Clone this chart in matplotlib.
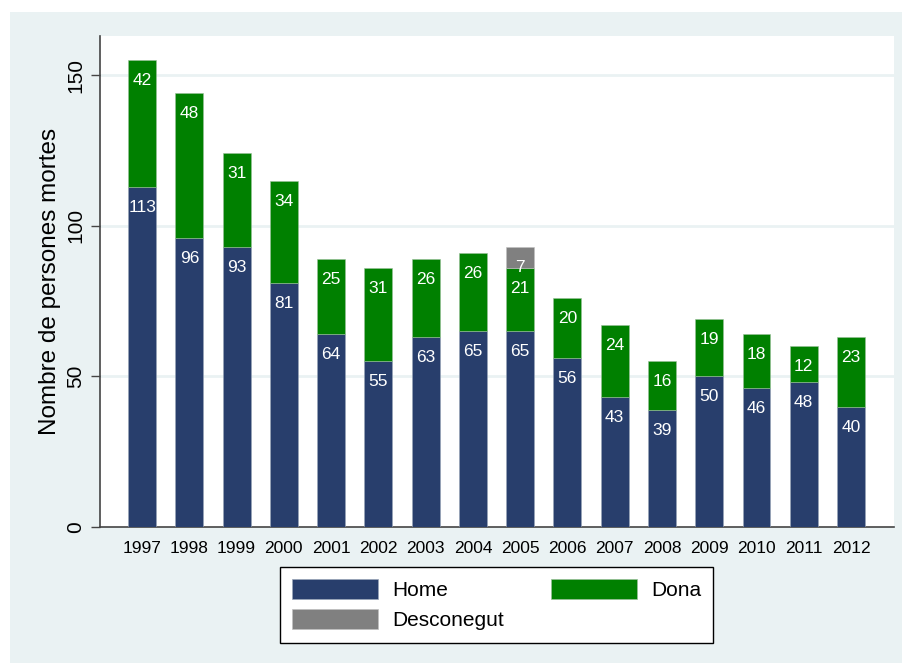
import matplotlib.pyplot as plt
from matplotlib.patches import Rectangle, Patch
import numpy as np

plt.rcParams['font.family'] = ['Liberation Sans', 'DejaVu Sans']

years = ['1997', '1998', '1999', '2000', '2001', '2002', '2003', '2004',
         '2005', '2006', '2007', '2008', '2009', '2010', '2011', '2012']
home = [113, 96, 93, 81, 64, 55, 63, 65, 65, 56, 43, 39, 50, 46, 48, 40]
dona = [42, 48, 31, 34, 25, 31, 26, 26, 21, 20, 24, 16, 19, 18, 12, 23]
desconegut = [0, 0, 0, 0, 0, 0, 0, 0, 7, 0, 0, 0, 0, 0, 0, 0]

c_home = '#283e6c'
c_dona = '#008000'
c_desc = '#808080'
bg = '#eaf2f3'

fig = plt.figure(figsize=(9.03, 6.63), dpi=100)
fig.patches.append(Rectangle((10 / 903, 0), 1, 651 / 663, transform=fig.transFigure,
                             facecolor=bg, edgecolor='none', zorder=-10))
ax = fig.add_axes([100 / 903, 136 / 663, 794 / 903, 491 / 663])

x = np.arange(len(years))
w = 0.59
home = np.array(home)
dona = np.array(dona)
desconegut = np.array(desconegut)

ax.bar(x, home, w, color=c_home, edgecolor='#9aa6b8', linewidth=0.4, zorder=3)
ax.bar(x, dona, w, bottom=home, color=c_dona, edgecolor='#9ac09a', linewidth=0.4, zorder=3)
mask = desconegut > 0
ax.bar(x[mask], desconegut[mask], w, bottom=(home + dona)[mask], color=c_desc,
       edgecolor='#c0c0c0', linewidth=0.4, zorder=3)

# white value labels just under the top of each segment
for i in range(len(years)):
    segs = [(home[i], home[i]), (dona[i], home[i] + dona[i]),
            (desconegut[i], home[i] + dona[i] + desconegut[i])]
    for val, top in segs:
        if val > 0:
            ax.annotate(str(val), (x[i], top), xytext=(0, -18), textcoords='offset points',
                        ha='center', va='baseline', color='white', fontsize=12.5, zorder=4)

ax.set_xlim(-0.89, 15.91)
ax.set_ylim(0, 163)
ax.set_yticks([0, 50, 100, 150])
ax.set_xticks(x)
ax.set_xticklabels(years)
ax.tick_params(axis='x', length=0, pad=10, labelsize=12.5)
ax.tick_params(axis='y', length=6.5, width=1, color='#444444', pad=4, labelsize=15)
for lab in ax.get_yticklabels():
    lab.set_rotation(90)
    lab.set_va('center')

for val in [50, 100, 150]:
    ax.axhline(val, color=bg, linewidth=2, zorder=1)

ax.spines['top'].set_visible(False)
ax.spines['right'].set_visible(False)
ax.spines['left'].set_color('#444444')
ax.spines['bottom'].set_color('#444444')
ax.spines['left'].set_linewidth(1.2)
ax.spines['bottom'].set_linewidth(1.2)

ax.set_ylabel('Nombre de persones mortes', fontsize=17.5, labelpad=4)

handles = [Patch(facecolor=c_home, edgecolor='#9aa6b8', linewidth=0.5),
           Patch(facecolor=c_desc, edgecolor='#c0c0c0', linewidth=0.5),
           Patch(facecolor=c_dona, edgecolor='#9ac09a', linewidth=0.5)]
leg = fig.legend(handles, ['Home', 'Desconegut', 'Dona'], ncol=2, loc='center',
                 bbox_to_anchor=(0.55, 0.088), fontsize=15, frameon=True, fancybox=False,
                 edgecolor='black', framealpha=1, handlelength=4.1, handleheight=1.1,
                 handletextpad=0.67, columnspacing=2.3, labelspacing=0.43, borderpad=0.6)
leg.get_frame().set_linewidth(1.0)

fig.savefig('out.png', dpi=100, facecolor='white')
